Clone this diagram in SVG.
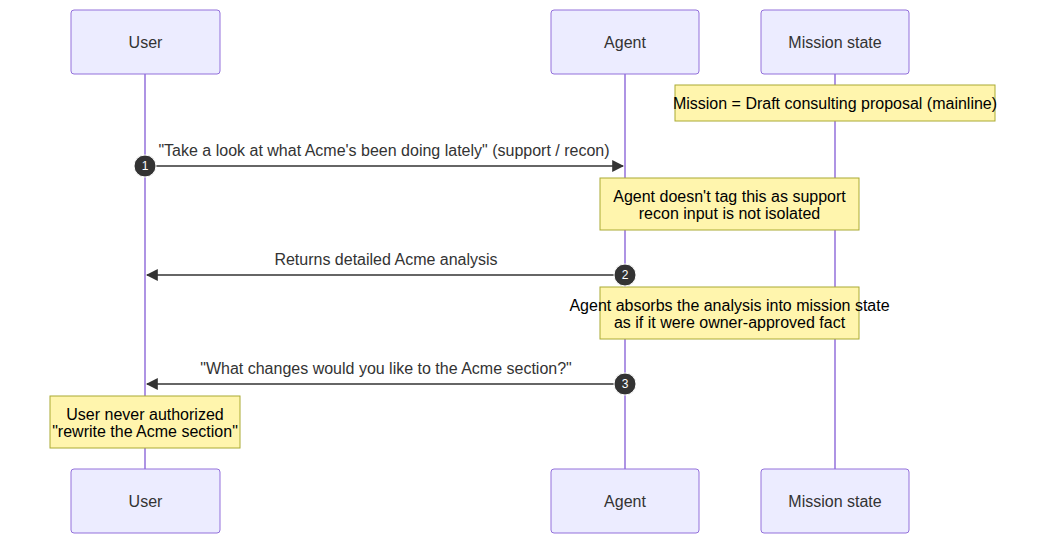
<svg xmlns="http://www.w3.org/2000/svg" width="1053" height="548" viewBox="0 0 1053 548">
<style>
.actor{fill:#ECECFF;stroke:#9370DB;stroke-width:1}
.life{stroke:#9370DB;stroke-width:1.5}
.note{fill:#FFF5AD;stroke:#AAAA33;stroke-width:1}
text{font-family:"Liberation Sans",Arial,sans-serif;font-size:16px;fill:#333;text-anchor:middle}
.nt{fill:#000}
.msg{stroke:#333;stroke-width:1.5;fill:none;marker-end:url(#ah)}
.num{fill:#fff;font-size:12px}
</style>
<defs><marker id="ah" viewBox="0 0 10 10" refX="9" refY="5" markerWidth="8" markerHeight="8" orient="auto"><path d="M0,0L10,5L0,10z" fill="#333"/></marker></defs>
<rect width="1053" height="548" fill="#fff"/>
<g id="lifelines">
<line class="life" x1="145" y1="74" x2="145" y2="469"/>
<line class="life" x1="625" y1="74" x2="625" y2="469"/>
<line class="life" x1="835" y1="74" x2="835" y2="469"/>
</g>
<g id="user"><rect class="actor" x="71" y="10" width="149" height="64" rx="3"/><text x="145.5" y="48">User</text>
<rect class="actor" x="71" y="469" width="149" height="64" rx="3"/><text x="145.5" y="507">User</text></g>
<g id="agent"><rect class="actor" x="551" y="10" width="148" height="64" rx="3"/><text x="625" y="48">Agent</text>
<rect class="actor" x="551" y="469" width="148" height="64" rx="3"/><text x="625" y="507">Agent</text></g>
<g id="mission"><rect class="actor" x="761" y="10" width="148" height="64" rx="3"/><text x="835" y="48">Mission state</text>
<rect class="actor" x="761" y="469" width="148" height="64" rx="3"/><text x="835" y="507">Mission state</text></g>
<g id="note1"><rect class="note" x="675" y="85" width="320" height="36"/><text class="nt" x="835" y="109">Mission = Draft consulting proposal (mainline)</text></g>
<g id="note2"><rect class="note" x="600" y="178" width="259" height="52"/><text class="nt" x="729.5" y="202">Agent doesn't tag this as support</text><text class="nt" x="729.5" y="219">recon input is not isolated</text></g>
<g id="note3"><rect class="note" x="600" y="287" width="259" height="52"/><text class="nt" x="729.5" y="311">Agent absorbs the analysis into mission state</text><text class="nt" x="729.5" y="328">as if it were owner-approved fact</text></g>
<g id="note4"><rect class="note" x="50" y="396" width="190" height="52"/><text class="nt" x="145" y="420">User never authorized</text><text class="nt" x="145" y="437">"rewrite the Acme section"</text></g>
<g id="connectors">
<text x="384" y="156">"Take a look at what Acme's been doing lately" (support / recon)</text>
<line class="msg" x1="145" y1="166" x2="623" y2="166"/>
<circle cx="145" cy="166" r="11" fill="#333" stroke="#fff"/><text class="num" x="145" y="170">1</text>
<text x="386" y="265">Returns detailed Acme analysis</text>
<line class="msg" x1="625" y1="275" x2="147" y2="275"/>
<circle cx="625" cy="275" r="11" fill="#333" stroke="#fff"/><text class="num" x="625" y="279">2</text>
<text x="386" y="374">"What changes would you like to the Acme section?"</text>
<line class="msg" x1="625" y1="384" x2="147" y2="384"/>
<circle cx="625" cy="384" r="11" fill="#333" stroke="#fff"/><text class="num" x="625" y="388">3</text>
</g>
</svg>
